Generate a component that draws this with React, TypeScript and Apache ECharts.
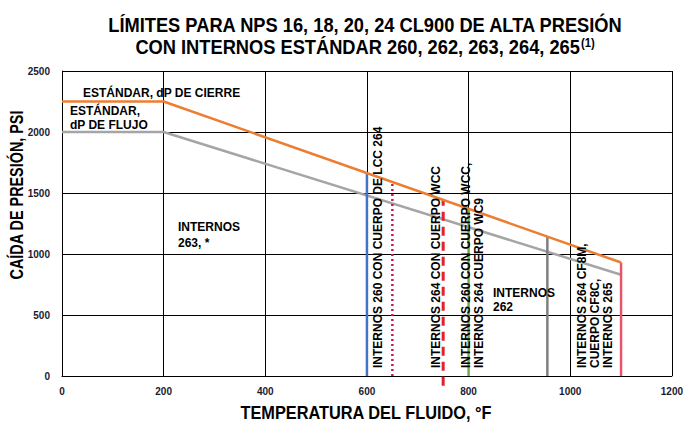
import React, { useEffect, useRef } from "react";
import * as echarts from "echarts";

// ---- data ----
const shutoffTemps = [0, 200, 1100];
const shutoffPsi = [2250, 2250, 930];
const flowTemps = [0, 200, 1100];
const flowPsi = [2000, 2000, 830];

const limitTemps = [600, 650, 750, 800, 955, 1100];
const limitBottoms = [0, 0, -80, 0, 0, 0];
const limitTops = [1665, 1590, 1443, 1370, 1145, 930];

const xMin = 0, xMax = 1200, xStep = 200;
const yMin = 0, yMax = 2500, yStep = 500;

const titleLine1 = "LÍMITES PARA NPS 16, 18, 20, 24 CL900 DE ALTA PRESIÓN";
const titleLine2 = "CON INTERNOS ESTÁNDAR 260, 262, 263, 264, 265";
const titleNote = "(1)";
const xName = "TEMPERATURA DEL FLUIDO, °F";
const yName = "CAÍDA DE PRESIÓN, PSI";

// ---- styles ----
const limitStyles = [
  { color: "#4472C4", width: 2.5, type: "solid" as any },
  { color: "#C8174E", width: 2.5, type: [2, 3] as any },
  { color: "#E2212B", width: 3, type: [9, 6] as any },
  { color: "#70AD47", width: 2.5, type: "solid" as any },
  { color: "#7F7F7F", width: 2.5, type: "solid" as any },
  { color: "#E5566A", width: 2.5, type: "solid" as any },
];

const SANS = "'Liberation Sans', Arial, sans-serif";

export default function App() {
  const ref = useRef<HTMLDivElement>(null);
  useEffect(() => {
    if (!ref.current) return;
    const chart = echarts.init(ref.current, undefined, { renderer: "svg" });

    const pair = (xs: number[], ys: number[]) => xs.map((x, i) => [x, ys[i]]);

    const series: any[] = [];
    limitTemps.forEach((t, i) => {
      series.push({
        type: "line",
        data: [[t, limitBottoms[i]], [t, limitTops[i]]],
        symbol: "none",
        clip: false,
        lineStyle: limitStyles[i],
        z: 3,
      });
    });
    series.push({
      type: "line",
      data: pair(flowTemps, flowPsi),
      symbol: "none",
      lineStyle: { color: "#A5A5A5", width: 2.5 },
      z: 2,
    });
    series.push({
      type: "line",
      data: pair(shutoffTemps, shutoffPsi),
      symbol: "none",
      lineStyle: { color: "#ED7D31", width: 2.5 },
      z: 4,
    });

    const ann = (text: string, x: number, y: number, extra: any = {}) => ({
      type: "text",
      x,
      y,
      z: 10,
      ...extra,
      style: {
        text,
        fill: "#000",
        fontFamily: SANS,
        fontWeight: "bold",
        fontSize: 12,
        lineHeight: 14,
        textAlign: "left",
        textVerticalAlign: "middle",
        ...(extra.style || {}),
      },
    });
    const vtext = (text: string, x: number, y: number, lh = 13) =>
      ann(text, x, y, { rotation: Math.PI / 2, style: { lineHeight: lh } });

    const plainLabel = (v: number) => String(v);

    chart.setOption({
      animation: false,
      grid: { left: 62, right: 13, top: 71, bottom: 56 },
      xAxis: {
        type: "value",
        min: xMin,
        max: xMax,
        interval: xStep,
        axisLine: { show: true, onZero: false, lineStyle: { color: "#000", width: 1 } },
        axisTick: { show: false },
        splitLine: { show: true, lineStyle: { color: "#000", width: 1 } },
        axisLabel: { formatter: plainLabel, color: "#1b1b2f", fontFamily: SANS, fontWeight: "bold", fontSize: 10, margin: 10 },
      },
      yAxis: {
        type: "value",
        min: yMin,
        max: yMax,
        interval: yStep,
        axisLine: { show: true, lineStyle: { color: "#000", width: 1 } },
        axisTick: { show: false },
        splitLine: { show: true, lineStyle: { color: "#000", width: 1 } },
        axisLabel: { formatter: plainLabel, color: "#1b1b2f", fontFamily: SANS, fontWeight: "bold", fontSize: 10, margin: 12 },
      },
      series,
      graphic: [
        {
          type: "text",
          x: 365,
          y: 36,
          scaleX: 0.87,
          style: {
            text: `{a|${titleLine1}}\n{a|${titleLine2}}{s|${titleNote}}`,
            textAlign: "center",
            textVerticalAlign: "middle",
            rich: {
              a: { fill: "#000", fontFamily: SANS, fontWeight: "bold", fontSize: 21, lineHeight: 22 },
              s: { fill: "#000", fontFamily: SANS, fontWeight: "bold", fontSize: 13, lineHeight: 22, verticalAlign: "top", padding: [0, 0, 8, 1] },
            },
          },
        },
        {
          type: "text",
          x: 366,
          y: 413,
          scaleX: 0.86,
          style: {
            text: xName,
            fill: "#000",
            fontFamily: SANS,
            fontWeight: "bold",
            fontSize: 19,
            textAlign: "center",
            textVerticalAlign: "middle",
          },
        },
        {
          type: "text",
          x: 16,
          y: 195,
          rotation: Math.PI / 2,
          scaleX: 0.8,
          style: {
            text: yName,
            fill: "#000",
            fontFamily: SANS,
            fontWeight: "bold",
            fontSize: 18,
            textAlign: "center",
            textVerticalAlign: "middle",
          },
        },
        ann("ESTÁNDAR, dP DE CIERRE", 83, 93),
        ann("ESTÁNDAR,\ndP DE FLUJO", 70, 118),
        ann("INTERNOS\n263, *", 178, 235, { style: { lineHeight: 16 } }),
        ann("INTERNOS\n262", 493, 300),
        vtext("INTERNOS 260 CON CUERPO DE LCC 264", 378, 368),
        vtext("INTERNOS 264 CON CUERPO WCC", 436, 368),
        vtext("INTERNOS 260 CON CUERPO WCC,\nINTERNOS 264 CUERPO WC9", 472.5, 368),
        vtext("INTERNOS 264 CF8M,\nCUERPO CF8C,\nINTERNOS 265", 595, 368),
      ],
    });
    return () => chart.dispose();
  }, []);
  return (
    <div
      ref={ref}
      style={{ position: "fixed", left: 0, top: 0, width: 686, height: 432, background: "#fff" }}
    />
  );
}
